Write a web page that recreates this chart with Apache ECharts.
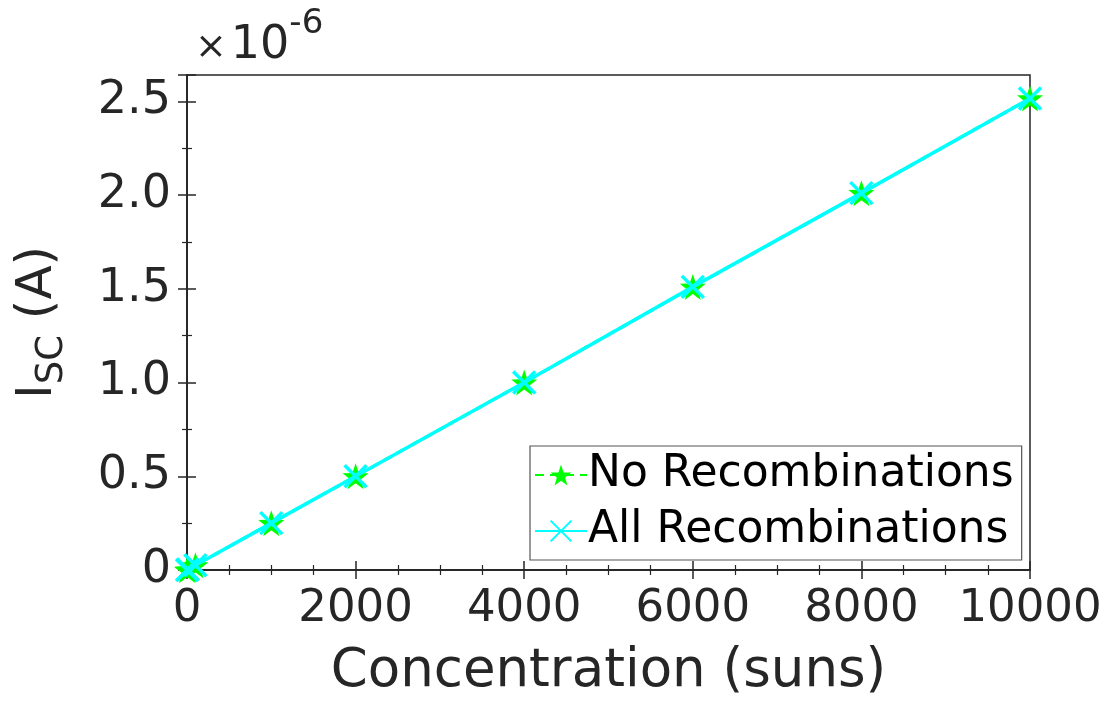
<!DOCTYPE html>
<html>
<head>
<meta charset="utf-8">
<script src="https://cdn.jsdelivr.net/npm/echarts@6/dist/echarts.min.js"></script>
<style>
html,body{margin:0;padding:0;background:#fff;}
#chart{width:1113px;height:704px;}
</style>
</head>
<body>
<div id="chart"></div>
<script>
// ---- data (Isc in units of 1e-6 A) ----
const concentration = [1, 10, 100, 1000, 2000, 4000, 6000, 8000, 10000];
const iscNoRecomb   = [0.00025, 0.0025, 0.025, 0.25, 0.50, 1.00, 1.51, 2.01, 2.515];
const iscAllRecomb  = [0.00025, 0.0025, 0.025, 0.25, 0.50, 1.00, 1.51, 2.01, 2.515];
const xTickLabels = ['0', '2000', '4000', '6000', '8000', '10000'];
const yTickLabels = ['0', '0.5', '1.0', '1.5', '2.0', '2.5'];
const seriesNames = ['No Recombinations', 'All Recombinations'];

const TXT = '#262626';
const FONT = 'DejaVu Sans';
const starPath = 'path://M50,0L61.76,33.82L97.55,34.55L69.02,56.18L79.39,90.45L50,70L20.61,90.45L30.98,56.18L2.45,34.55L38.24,33.82Z';
const xPath = 'path://M0,0L100,100M100,0L0,100';

const chart = echarts.init(document.getElementById('chart'), null, {renderer: 'canvas'});

function pairs(xs, ys) { return xs.map((x, i) => [x, ys[i]]); }

const xFmt = v => { const s = String(Math.round(v)); return xTickLabels.indexOf(s) >= 0 ? s : ''; };
const yFmt = v => {
  const s = Math.abs(v) < 1e-9 ? '0' : v.toFixed(1);
  return yTickLabels.indexOf(s) >= 0 && Math.abs(v * 2 - Math.round(v * 2)) < 1e-6 ? s : '';
};

const baseAxisLine = {show: true, lineStyle: {color: TXT, width: 1.5}};

chart.setOption({
  animation: false,
  backgroundColor: '#fff',
  textStyle: {fontFamily: FONT, color: TXT},
  title: {
    left: 190, top: 8,
    text: '{m|×}{a|10}{b|-6}',
    textStyle: {
      fontWeight: 'normal',
      rich: {
        m: {fontFamily: FONT, fontSize: 38, fontWeight: 'normal', color: TXT, verticalAlign: 'bottom', lineHeight: 56, padding: [0, 4, 2, 0]},
        a: {fontFamily: FONT, fontSize: 46, fontWeight: 'normal', color: TXT, verticalAlign: 'bottom', lineHeight: 56},
        b: {fontFamily: FONT, fontSize: 34, fontWeight: 'normal', color: TXT, verticalAlign: 'top', lineHeight: 56, padding: [-6, 0, 0, 0]}
      }
    }
  },
  grid: {left: 187, right: 83, top: 75, bottom: 133, show: true, borderColor: TXT, borderWidth: 1.5, containLabel: false},
  legend: {
    orient: 'vertical',
    left: 530, top: 446,
    padding: [6, 8, 6, 4],
    itemGap: 10,
    itemWidth: 52, itemHeight: 26,
    backgroundColor: '#fff',
    borderColor: '#555', borderWidth: 1.2, borderRadius: 0,
    textStyle: {fontFamily: FONT, fontSize: 44, color: '#000', padding: [0, 0, 0, -4], lineHeight: 46},
    data: seriesNames
  },
  xAxis: [{
    type: 'value', min: 0, max: 10000, interval: 2000,
    position: 'bottom',
    axisLine: baseAxisLine,
    axisTick: {show: true, inside: true, length: 9, lineStyle: {color: TXT, width: 1.5}},
    minorTick: {show: true, splitNumber: 4, length: 5, lineStyle: {color: TXT, width: 1.2}},
    splitLine: {show: false},
    axisLabel: {fontFamily: FONT, fontSize: 45, color: TXT, margin: 17, formatter: xFmt, showMaxLabel: true},
    name: 'Concentration (suns)', nameLocation: 'middle', nameGap: 76,
    nameTextStyle: {fontFamily: FONT, fontSize: 53, color: TXT}
  }, {
    type: 'value', min: 0, max: 10000, interval: 2000,
    position: 'top',
    axisLine: baseAxisLine,
    axisTick: {show: true, inside: true, length: 9, lineStyle: {color: TXT, width: 1.5}},
    minorTick: {show: true, splitNumber: 4, length: 5, lineStyle: {color: TXT, width: 1.2}},
    splitLine: {show: false},
    axisLabel: {show: false}
  }],
  yAxis: [{
    type: 'value', min: 0, max: 2.64, interval: 0.5,
    position: 'left',
    axisLine: baseAxisLine,
    axisTick: {show: true, inside: true, length: 9, lineStyle: {color: TXT, width: 1.5}},
    minorTick: {show: true, splitNumber: 2, length: 5, lineStyle: {color: TXT, width: 1.2}},
    splitLine: {show: false},
    axisLabel: {fontFamily: FONT, fontSize: 46, color: TXT, margin: 16, formatter: yFmt, showMaxLabel: false},
    name: '{a|I}{b|SC}{a| (A)}', nameLocation: 'middle', nameGap: 116,
    nameTextStyle: {
      rich: {
        a: {fontFamily: FONT, fontSize: 50, color: TXT, verticalAlign: 'middle', lineHeight: 66},
        b: {fontFamily: FONT, fontSize: 37, color: TXT, verticalAlign: 'bottom', lineHeight: 66}
      }
    }
  }, {
    type: 'value', min: 0, max: 2.64, interval: 0.5,
    position: 'right',
    axisLine: baseAxisLine,
    axisTick: {show: true, inside: true, length: 9, lineStyle: {color: TXT, width: 1.5}},
    minorTick: {show: true, splitNumber: 2, length: 5, lineStyle: {color: TXT, width: 1.2}},
    splitLine: {show: false},
    axisLabel: {show: false}
  }],
  series: [{
    name: seriesNames[0],
    type: 'line',
    xAxisIndex: 0, yAxisIndex: 0,
    data: pairs(concentration, iscNoRecomb),
    symbol: starPath, symbolSize: 26,
    showAllSymbol: true,
    lineStyle: {color: '#00ff00', width: 3, type: [9, 6]},
    itemStyle: {color: '#00ff00', borderColor: '#00ff00', borderWidth: 0},
    z: 2
  }, {
    name: seriesNames[1],
    type: 'line',
    xAxisIndex: 0, yAxisIndex: 0,
    data: pairs(concentration, iscAllRecomb),
    symbol: xPath, symbolSize: 22,
    showAllSymbol: true,
    lineStyle: {color: '#00ffff', width: 3.5},
    itemStyle: {color: 'none', borderColor: '#00ffff', borderWidth: 3.5},
    z: 3
  }]
});
</script>
</body>
</html>
